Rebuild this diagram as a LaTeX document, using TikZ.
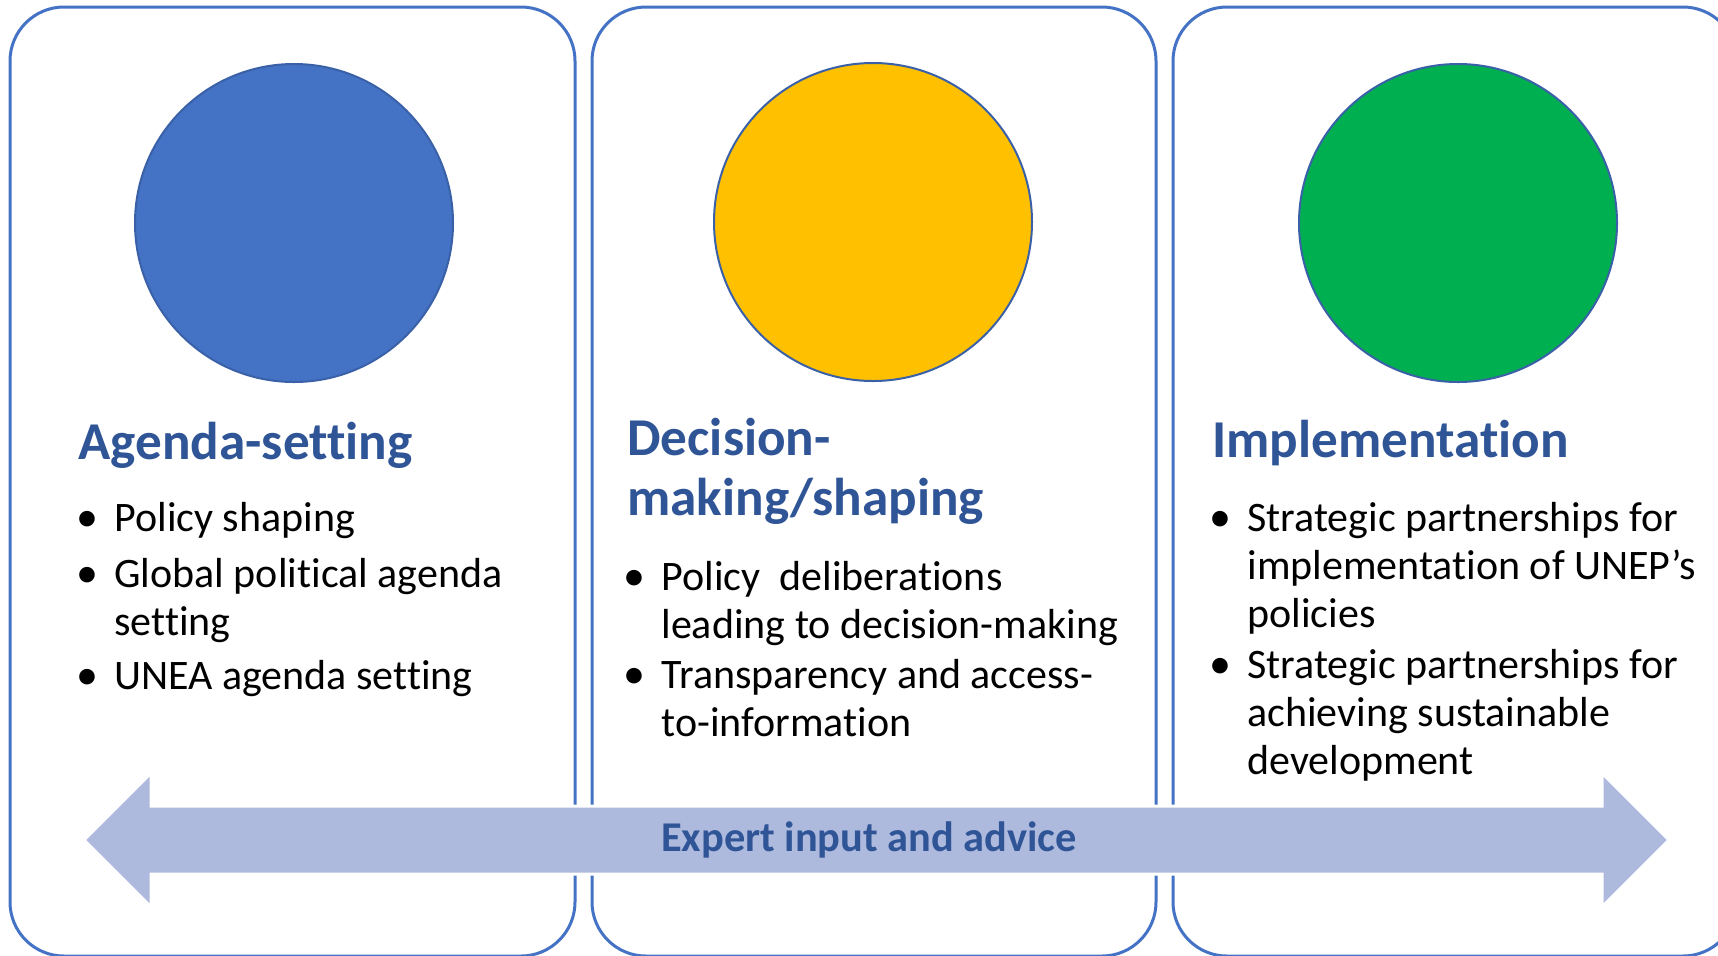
\documentclass[tikz,border=0pt]{standalone}
\usepackage{fontspec}
\setmainfont{Carlito}[Ligatures=NoCommon]
\usetikzlibrary{positioning}
\definecolor{framecol}{HTML}{4472C4}
\definecolor{headcol}{HTML}{2F5597}
\definecolor{agendacol}{HTML}{4472C4}
\definecolor{decisioncol}{HTML}{FFC000}
\definecolor{implcol}{HTML}{00B050}
\definecolor{arrowcol}{HTML}{AEB9DE}
% lines of one node, baseline on the first line
\newcommand{\toplines}[1]{\begin{tabular}[t]{@{}l@{}}#1\end{tabular}}

\begin{document}
\begin{tikzpicture}[x=0.5pt,y=-0.5pt]
    \tikzset{
        panel/.style = {draw=framecol, line width=1.5pt, rounded corners=27pt},
        disc/.style = {circle, draw=framecol!85!black, line width=1pt, minimum size=159pt, inner sep=0pt},
        heading/.style = {anchor=base west, inner sep=0pt, text=headcol, font=\fontsize{26.6pt}{30pt}\selectfont\bfseries},
        item/.style = {anchor=base west, inner sep=0pt, font=\fontsize{21pt}{24pt}\selectfont},
        dot/.style = {inner sep=0pt, font=\fontsize{22pt}{24pt}\selectfont, node distance=7.5pt},
    }
    \useasboundingbox (0,0) rectangle (1718,955);
    \clip (0,0) rectangle (1718,955);

    % the three panels
    \draw[panel] (10,7) rectangle (575,956);
    \draw[panel] (592,7) rectangle (1156,956);
    \draw[panel] (1173,7) rectangle (1737,956);

    \node [disc, fill=agendacol] (c1) at (294,223) {};
    \node [disc, fill=decisioncol] (c2) at (873,222) {};
    \node [disc, fill=implcol] (c3) at (1458,223) {};

    % agenda-setting
    \node [heading] (h1) at (78,459) {Agenda-setting};
    \node [item] (i11) at (114,531) {Policy shaping};
    \node [item] (i12) at (114,587) {\toplines{Global political agenda\\setting}};
    \node [item] (i13) at (114,689) {UNEA agenda setting};
    \node [dot,base left=of i11] (d11) {\textbullet};
    \node [dot,base left=of i12] (d12) {\textbullet};
    \node [dot,base left=of i13] (d13) {\textbullet};

    % decision-making
    \node [heading] (h2) at (627,455) {\toplines{Decision-\\making/shaping}};
    \node [item] (i21) at (661,590) {\toplines{Policy\ \ deliberations\\leading to decision-making}};
    \node [item] (i22) at (661,688) {\toplines{Transparency and access-\\to-information}};
    \node [dot,base left=of i21] (d21) {\textbullet};
    \node [dot,base left=of i22] (d22) {\textbullet};

    % implementation
    \node [heading] (h3) at (1212,457) {Implementation};
    \node [item] (i31) at (1247,531) {\toplines{Strategic partnerships for\\implementation of UNEP’s\\policies}};
    \node [item] (i32) at (1247,678) {\toplines{Strategic partnerships for\\achieving sustainable\\development}};
    \node [dot,base left=of i31] (d31) {\textbullet};
    \node [dot,base left=of i32] (d32) {\textbullet};

    % expert input arrow
    \fill [arrowcol, draw=white, line width=1.5pt] (84,840) -- (151,773) -- (151,806) -- (1602,806) -- (1602,773)
        -- (1669,840) -- (1602,907) -- (1602,874) -- (151,874) -- (151,907) -- cycle;
    \node [text=headcol, font=\fontsize{21.2pt}{24pt}\selectfont\bfseries] (advice) at (869,840) {Expert input and advice};
\end{tikzpicture}
\end{document}
